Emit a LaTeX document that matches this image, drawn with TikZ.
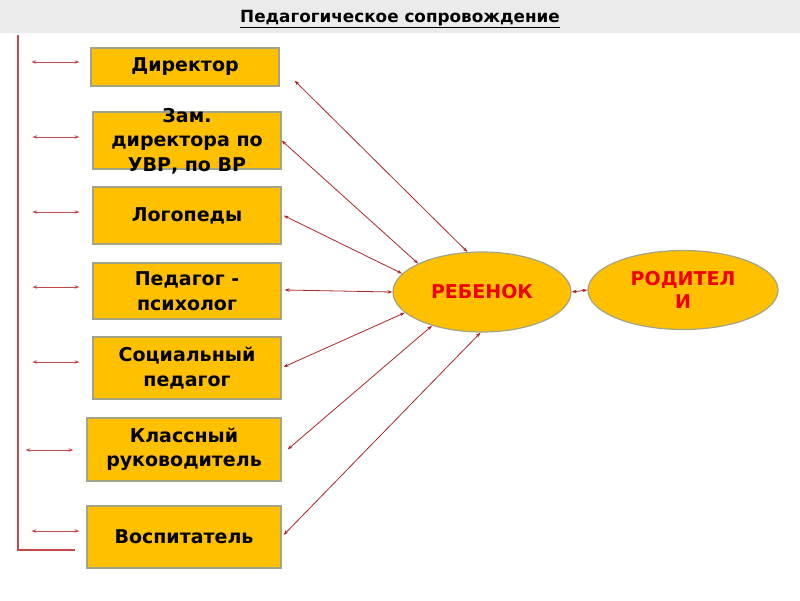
\documentclass[tikz,border=0pt]{standalone}
\usepackage{fontspec}
\setmainfont{DejaVu Sans}
\usetikzlibrary{arrows.meta,shapes.geometric}
\definecolor{gold}{HTML}{FFC000}
\definecolor{boxedge}{HTML}{A3A386}
\definecolor{conn}{HTML}{A8282B}
\definecolor{side}{HTML}{C8474B}
\definecolor{band}{HTML}{EBEBEB}
\definecolor{redtxt}{HTML}{F00000}
\tikzset{
  boxfont/.style={font=\fontsize{19}{24.5}\selectfont\bfseries},
  box/.style={rectangle,fill=gold,draw=boxedge,line width=1.2pt,inner sep=0pt,align=center,boxfont},
  boxtext/.style={inner sep=0pt,align=center,boxfont,text=black},
  ell/.style={ellipse,fill=gold,draw=boxedge,line width=1.2pt,inner sep=0pt,align=center,
    font=\fontsize{19}{23}\selectfont\bfseries,text=redtxt},
  conline/.style={draw=conn,line width=0.8pt,{Stealth[length=5pt,width=3.5pt]}-{Stealth[length=5pt,width=3.5pt]}},
  sidearr/.style={draw=side,line width=0.8pt,{Stealth[length=5pt,width=3.5pt]}-{Stealth[length=5pt,width=3.5pt]}},
  bracket/.style={draw=side,line width=1.4pt}
}
\begin{document}
\begin{tikzpicture}[x=1pt,y=-1pt]
\useasboundingbox (0,0) rectangle (800,600);
\fill[white] (0,0) rectangle (800,600);
\fill[band] (0,0) rectangle (800,33);
\node[font=\fontsize{16.8}{19}\selectfont\bfseries] (title) at (400,19) {\underline{Педагогическое сопровождение}};

\node[box,minimum width=188pt,minimum height=38pt] (dir) at (185,67) {Директор};
\node[box,minimum width=188pt,minimum height=57pt] (zam) at (187,140.5) {};
\node[boxtext] (zamtxt) at (187,141) {Зам.\\директора по\\УВР, по ВР};
\node[box,minimum width=188pt,minimum height=57pt] (log) at (187,215.5) {Логопеды};
\node[box,minimum width=188pt,minimum height=56pt] (ped) at (187,291) {Педагог -\\психолог};
\node[box,minimum width=188pt,minimum height=62pt] (soc) at (187,368) {Социальный\\педагог};
\node[box,minimum width=194pt,minimum height=63pt] (kl) at (184,449.5) {Классный\\руководитель};
\node[box,minimum width=194pt,minimum height=62pt] (vos) at (184,537) {Воспитатель};

\node[ell,minimum width=178pt,minimum height=80pt] (reb) at (482,292) {РЕБЕНОК};
\node[ell,minimum width=190pt,minimum height=79pt] (rod) at (683,290) {РОДИТЕЛ\\И};

% bracket
\coordinate (btop) at (18,35);
\coordinate (bcorner) at (18,550);
\coordinate (bend) at (75,550);
\draw[bracket] (btop) -- (bcorner) -- (bend);

% side arrows
\draw[sidearr] ([xshift=-59pt,yshift=5pt]dir.west) -- ([xshift=-11pt,yshift=5pt]dir.west);
\draw[sidearr] ([xshift=-60pt,yshift=3.5pt]zam.west) -- ([xshift=-13pt,yshift=3.5pt]zam.west);
\draw[sidearr] ([xshift=-60pt,yshift=3.5pt]log.west) -- ([xshift=-13pt,yshift=3.5pt]log.west);
\draw[sidearr] ([xshift=-60pt,yshift=4pt]ped.west) -- ([xshift=-13pt,yshift=4pt]ped.west);
\draw[sidearr] ([xshift=-60pt,yshift=6pt]soc.west) -- ([xshift=-13pt,yshift=6pt]soc.west);
\draw[sidearr] ([xshift=-61pt,yshift=-0.5pt]kl.west) -- ([xshift=-13pt,yshift=-0.5pt]kl.west);
\draw[sidearr] ([xshift=-55pt,yshift=6pt]vos.west) -- ([xshift=-7pt,yshift=6pt]vos.west);

% connectors to child
\draw[conline] ([xshift=15pt,yshift=6pt]dir.south east) -- (reb.110);
\draw[conline] (zam.east) -- (reb.156);
\draw[conline] ([xshift=2pt]log.east) -- (reb.167);
\draw[conline] ([xshift=3pt,yshift=1pt]ped.east) -- (reb.west);
\draw[conline] ([xshift=2pt,yshift=1pt]soc.east) -- (reb.195);
\draw[conline] ([xshift=6pt]kl.east) -- (reb.214);
\draw[conline] ([xshift=2pt,yshift=2pt]vos.east) -- (reb.268);
\draw[conline] (reb.east) -- (rod.west);
\end{tikzpicture}
\end{document}
